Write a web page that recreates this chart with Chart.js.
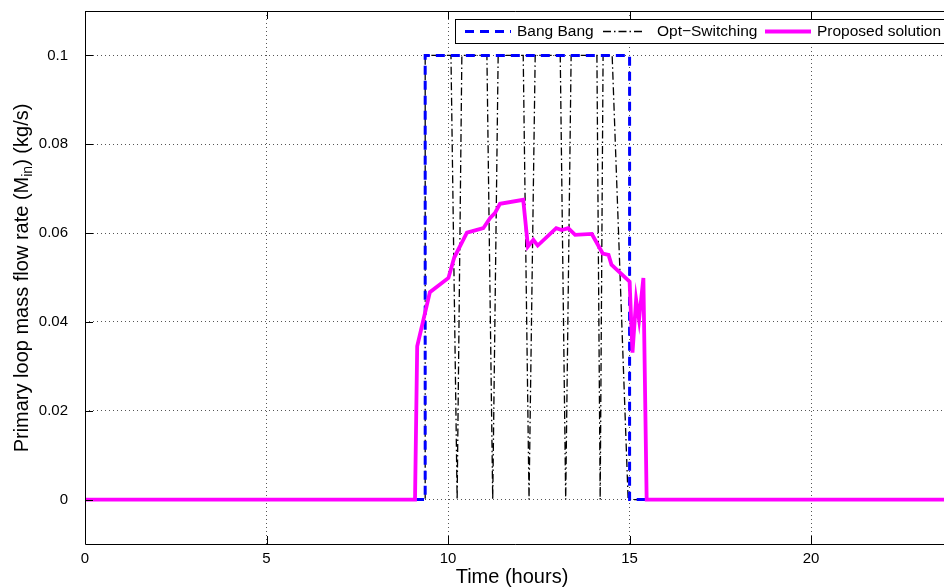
<!DOCTYPE html>
<html>
<head>
<meta charset="utf-8">
<script src="https://cdn.jsdelivr.net/npm/chart.js@4.4.1/dist/chart.umd.min.js"></script>
<style>
  html, body { margin: 0; padding: 0; background: #fff; }
  canvas { display: block; }
</style>
</head>
<body>
<canvas id="flowChart" width="944" height="588"></canvas>
<script>
// time axis (hours) and values (kg/s)
const bangTime = [0, 9.37, 9.37, 15.0, 15.0, 24];
const bangFlow = [0, 0, 0.1, 0.1, 0, 0];

const optTime = [0, 9.37, 9.37, 10.08, 10.25, 10.38, 11.07, 11.23, 11.38, 12.07, 12.23, 12.40,
                 13.09, 13.24, 13.39, 14.10, 14.19, 14.27, 14.52, 14.96, 24];
const optFlow = [0, 0, 0.1, 0.1, 0, 0.1, 0.1, 0, 0.1, 0.1, 0, 0.1,
                 0.1, 0, 0.1, 0.1, 0, 0.1, 0.1, 0, 0];

const propTime = [0, 9.09, 9.15, 9.50, 10.01, 10.17, 10.52, 10.97, 11.16, 11.29, 11.43, 12.07,
                  12.20, 12.35, 12.47, 12.98, 13.13, 13.31, 13.50, 13.96, 14.26, 14.42, 14.50,
                  15.00, 15.08, 15.18, 15.26, 15.38, 15.47, 24];
const propFlow = [0, 0, 0.0345, 0.0467, 0.0499, 0.0545, 0.0601, 0.0611, 0.0634, 0.0645, 0.0666, 0.0675,
                  0.0570, 0.0585, 0.0572, 0.0611, 0.0607, 0.0611, 0.0596, 0.0598, 0.0554, 0.0551, 0.0529,
                  0.0491, 0.0331, 0.0450, 0.0405, 0.0499, 0, 0];

const xTicks = [0, 5, 10, 15, 20];
const yTicks = [0, 0.02, 0.04, 0.06, 0.08, 0.1];

const seriesNames = ['Bang Bang', 'Opt\u2212Switching', 'Proposed solution'];
const xTitle = 'Time (hours)';

const FONT = '"Liberation Sans", Arial, Helvetica, sans-serif';

const toPoints = (t, v) => t.map((x, i) => ({ x: x, y: v[i] }));

const bangStyle = { borderColor: '#0000ff', borderWidth: 3, borderDash: [9, 6] };
const optStyle = { borderColor: '#000000', borderWidth: 1.3, borderDash: [8, 3, 1.5, 3] };
const propStyle = { borderColor: '#ff00ff', borderWidth: 3.8, borderDash: [] };

// axes box, inward ticks, titles and legend, drawn the MATLAB way
const matlabFrame = {
    id: 'matlabFrame',
    afterDraw(chart) {
        const ctx = chart.ctx;
        const area = chart.chartArea;
        const xs = chart.scales.x;
        const ys = chart.scales.y;
        ctx.save();
        ctx.strokeStyle = '#000';
        ctx.lineWidth = 1;
        ctx.setLineDash([]);

        // box (right side lies outside the picture)
        ctx.beginPath();
        ctx.moveTo(area.right + 2, area.top + 0.5);
        ctx.lineTo(area.left + 0.5, area.top + 0.5);
        ctx.lineTo(area.left + 0.5, area.bottom + 0.5);
        ctx.lineTo(area.right + 2, area.bottom + 0.5);
        ctx.stroke();

        // tick marks pointing inside
        const tl = 8;
        ctx.beginPath();
        xTicks.forEach(v => {
            const px = Math.round(xs.getPixelForValue(v)) + 0.5;
            ctx.moveTo(px, area.bottom);
            ctx.lineTo(px, area.bottom - tl);
            ctx.moveTo(px, area.top);
            ctx.lineTo(px, area.top + tl);
        });
        yTicks.forEach(v => {
            const py = Math.round(ys.getPixelForValue(v)) + 0.5;
            ctx.moveTo(area.left, py);
            ctx.lineTo(area.left + tl, py);
        });
        ctx.stroke();

        // x title
        ctx.fillStyle = '#000';
        ctx.font = '20px ' + FONT;
        ctx.textAlign = 'center';
        ctx.textBaseline = 'middle';
        ctx.fillText(xTitle, 512, 577);

        // y title with subscript
        const parts = [
            { t: 'Primary loop mass flow rate (M', size: 20, dy: 0 },
            { t: 'in', size: 14, dy: 6 },
            { t: ') (kg/s)', size: 20, dy: 0 }
        ];
        let total = 0;
        parts.forEach(p => { ctx.font = p.size + 'px ' + FONT; p.w = ctx.measureText(p.t).width; total += p.w; });
        ctx.translate(22, 278);
        ctx.rotate(-Math.PI / 2);
        ctx.textAlign = 'left';
        let cx = -total / 2;
        parts.forEach(p => {
            ctx.font = p.size + 'px ' + FONT;
            ctx.fillText(p.t, cx, p.dy);
            cx += p.w;
        });
        ctx.setTransform(1, 0, 0, 1, 0, 0);

        // legend
        const lx = 455, ly = 19, lh = 24;
        ctx.fillStyle = '#fff';
        ctx.fillRect(lx, ly, 520, lh);
        ctx.strokeStyle = '#000';
        ctx.lineWidth = 1;
        ctx.strokeRect(lx + 0.5, ly + 0.5, 520, lh);
        const items = [
            { name: seriesNames[0], style: bangStyle, x0: 465, x1: 511, tx: 517 },
            { name: seriesNames[1], style: optStyle, x0: 603, x1: 644, tx: 657 },
            { name: seriesNames[2], style: propStyle, x0: 765, x1: 811, tx: 817 }
        ];
        const my = ly + lh / 2 + 0.5;
        ctx.font = '15.5px ' + FONT;
        ctx.textBaseline = 'middle';
        items.forEach(it => {
            ctx.strokeStyle = it.style.borderColor;
            ctx.lineWidth = it.style.borderWidth;
            ctx.setLineDash(it.style.borderDash);
            ctx.beginPath();
            ctx.moveTo(it.x0, my);
            ctx.lineTo(it.x1, my);
            ctx.stroke();
            ctx.setLineDash([]);
            ctx.fillStyle = '#000';
            ctx.fillText(it.name, it.tx, my);
        });
        ctx.restore();
    }
};

const whiteBg = {
    id: 'whiteBg',
    beforeDraw(chart) {
        const ctx = chart.ctx;
        ctx.save();
        ctx.fillStyle = '#fff';
        ctx.fillRect(0, 0, chart.width, chart.height);
        ctx.restore();
    }
};

const gridLook = { color: '#555', lineWidth: 1, drawTicks: false };

new Chart(document.getElementById('flowChart'), {
    type: 'line',
    data: {
        datasets: [
            Object.assign({ label: seriesNames[2], data: toPoints(propTime, propFlow), order: 0 }, propStyle),
            Object.assign({ label: seriesNames[0], data: toPoints(bangTime, bangFlow), order: 1 }, bangStyle),
            Object.assign({ label: seriesNames[1], data: toPoints(optTime, optFlow), order: 2 }, optStyle)
        ]
    },
    options: {
        responsive: false,
        devicePixelRatio: 1,
        animation: false,
        elements: { point: { radius: 0 }, line: { tension: 0, fill: false } },
        layout: { padding: { top: 11, right: 0, bottom: 0, left: 0 } },
        plugins: { legend: { display: false }, tooltip: { enabled: false } },
        scales: {
            x: {
                type: 'linear',
                min: 0,
                max: 23.66,
                afterBuildTicks: s => { s.ticks = xTicks.map(v => ({ value: v })); },
                afterFit: s => { s.height = 44; s.paddingLeft = 0; s.paddingRight = 0; },
                grid: gridLook,
                border: { display: false, dash: [1, 3] },
                ticks: { color: '#000', font: { family: FONT, size: 15 }, padding: 6, maxRotation: 0,
                         callback: v => String(v) }
            },
            y: {
                type: 'linear',
                min: -0.01,
                max: 0.11,
                afterBuildTicks: s => { s.ticks = yTicks.map(v => ({ value: v })); },
                afterFit: s => { s.width = 85; s.paddingTop = 0; s.paddingBottom = 0; },
                grid: gridLook,
                border: { display: false, dash: [1, 3] },
                ticks: { color: '#000', font: { family: FONT, size: 15 }, padding: 17,
                         callback: v => String(+v.toFixed(3)) }
            }
        }
    },
    plugins: [whiteBg, matlabFrame]
});
</script>
</body>
</html>
